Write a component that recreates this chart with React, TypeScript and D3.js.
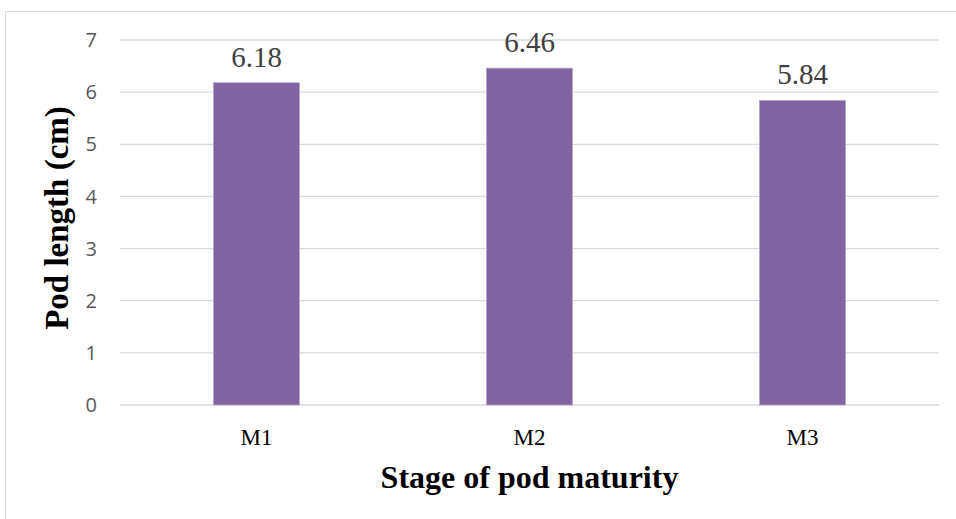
import React from "react";
import * as d3 from "d3";

const categories = ["M1", "M2", "M3"];
const values = [6.18, 6.46, 5.84];
const yTicks = [0, 1, 2, 3, 4, 5, 6, 7];
const xTitle = "Stage of pod maturity";
const yTitle = "Pod length (cm)";

export default function App() {
  const W = 956, H = 519;
  const left = 120, right = 939, top = 40, bottom = 405;
  const x = d3.scaleBand<string>().domain(categories).range([left, right]).paddingInner(0.685).paddingOuter(0.3425);
  const y = d3.scaleLinear().domain([0, 7]).range([bottom, top]);
  const serif = "'Liberation Serif', 'Times New Roman', serif";
  return (
    <svg width={W} height={H} style={{ position: "absolute", left: 0, top: 0 }}>
      <rect x={0} y={0} width={W} height={H} fill="#fff" />
      <rect x={5.5} y={11.5} width={W} height={H} fill="none" stroke="#d9d9d9" />
      {yTicks.map((t) => (
        <g key={t}>
          <line x1={left} x2={right} y1={y(t)} y2={y(t)} stroke="#d9d9d9" strokeWidth={1.3} />
          <text x={97} y={y(t)} dy="0.36em" textAnchor="end" fontFamily="'Open Sans', sans-serif" fontSize={20} fill="#595959">{t}</text>
        </g>
      ))}
      {categories.map((c, i) => (
        <g key={c}>
          <rect x={x(c)} y={y(values[i])} width={x.bandwidth()} height={bottom - y(values[i])} fill="#8064a2" stroke="#b4a3c9" strokeWidth={0.8} />
          <text x={(x(c) as number) + x.bandwidth() / 2} y={y(values[i]) - 16} textAnchor="middle" fontFamily={serif} fontSize={29} fill="#404040">{values[i].toFixed(2)}</text>
          <text x={(x(c) as number) + x.bandwidth() / 2} y={445} textAnchor="middle" fontFamily={serif} fontSize={23} fill="#000">{c}</text>
        </g>
      ))}
      <text x={(left + right) / 2} y={488} textAnchor="middle" fontFamily={serif} fontWeight="bold" fontSize={32} fill="#000">{xTitle}</text>
      <text transform={`translate(68, 218) rotate(-90)`} textAnchor="middle" fontFamily={serif} fontWeight="bold" fontSize={33} fill="#000">{yTitle}</text>
    </svg>
  );
}
